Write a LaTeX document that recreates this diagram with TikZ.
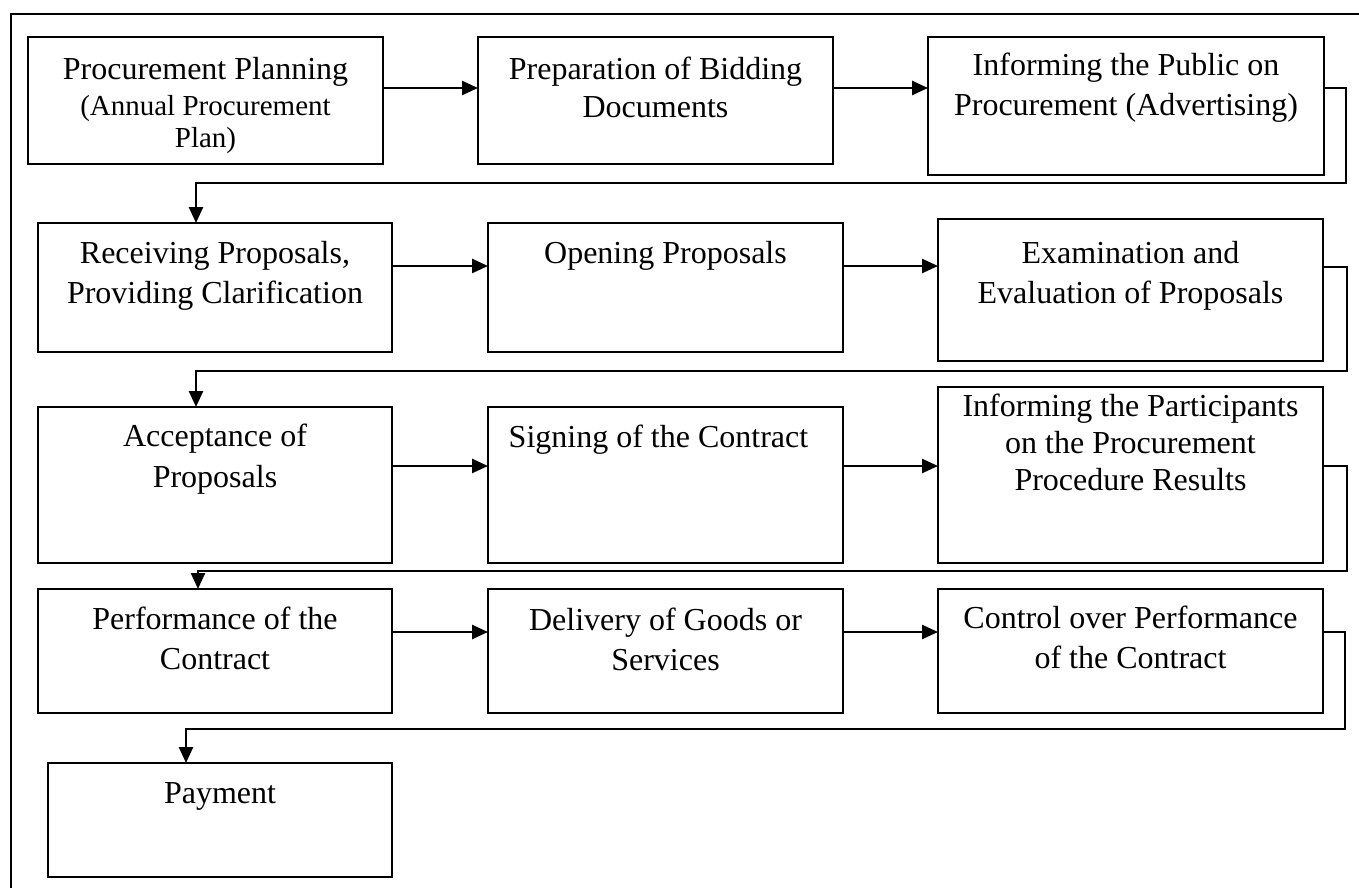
\documentclass[tikz,border=0pt]{standalone}
\usepackage{fontspec}
\setmainfont{Liberation Serif}
\usetikzlibrary{arrows.meta,calc}
\begin{document}
\begin{tikzpicture}[x=1pt,y=-1pt,
  box/.style={draw, line width=2.6pt, inner sep=0pt, outer sep=0pt, anchor=north west},
  lbl/.style={anchor=base, inner sep=0pt, font=\fontsize{32}{40}\selectfont},
  link/.style={line width=2.5pt, -{Triangle[length=16pt,width=14pt]}},
  frame/.style={line width=2.8pt}]
\useasboundingbox (0,0) rectangle (1359,888);
\draw[frame] (11,888) -- (11,14) -- (1359,14);
% row 1
\node[box, minimum width=355pt, minimum height=127pt] (b1) at (28,37) {};
\node[box, minimum width=355pt, minimum height=127pt] (b2) at (478,37) {};
\node[box, minimum width=396pt, minimum height=138pt] (b3) at (928,37) {};
% row 2
\node[box, minimum width=354pt, minimum height=129pt] (b4) at (38,223) {};
\node[box, minimum width=355pt, minimum height=129pt] (b5) at (488,223) {};
\node[box, minimum width=385pt, minimum height=142pt] (b6) at (938,219) {};
% row 3
\node[box, minimum width=354pt, minimum height=156pt] (b7) at (38,407) {};
\node[box, minimum width=355pt, minimum height=156pt] (b8) at (488,407) {};
\node[box, minimum width=385pt, minimum height=176pt] (b9) at (938,387) {};
% row 4
\node[box, minimum width=354pt, minimum height=124pt] (b10) at (38,589) {};
\node[box, minimum width=355pt, minimum height=124pt] (b11) at (488,589) {};
\node[box, minimum width=385pt, minimum height=124pt] (b12) at (938,589) {};
% row 5
\node[box, minimum width=344pt, minimum height=114pt] (b13) at (48,763) {};
% labels
\node[lbl, font=\fontsize{32}{36}\selectfont] (t1) at ($(b1.north)+(0,43)$)
  {\begin{tabular}[t]{@{}c@{}}Procurement Planning\\ \fontsize{29}{34}\selectfont(Annual Procurement\\[-4pt] \fontsize{29}{34}\selectfont Plan)\end{tabular}};
\node[lbl] (t2) at ($(b2.north)+(0,43)$) {\begin{tabular}[t]{@{}c@{}}Preparation of Bidding\\[-2pt] Documents\end{tabular}};
\node[lbl] (t3) at ($(b3.north)+(0,39)$) {\begin{tabular}[t]{@{}c@{}}Informing the Public on\\ Procurement (Advertising)\end{tabular}};
\node[lbl] (t4) at ($(b4.north)+(0,40)$) {\begin{tabular}[t]{@{}c@{}}Receiving Proposals,\\ Providing Clarification\end{tabular}};
\node[lbl] (t5) at ($(b5.north)+(0,40)$) {Opening Proposals};
\node[lbl] (t6) at ($(b6.north)+(0,44)$) {\begin{tabular}[t]{@{}c@{}}Examination and\\ Evaluation of Proposals\end{tabular}};
\node[lbl] (t7) at ($(b7.north)+(0,39)$) {\begin{tabular}[t]{@{}c@{}}Acceptance of\\[1pt] Proposals\end{tabular}};
\node[lbl] (t8) at ($(b8.north)+(-7,40)$) {Signing of the Contract};
\node[lbl, font=\fontsize{32}{37}\selectfont] (t9) at ($(b9.north)+(0,29)$) {\begin{tabular}[t]{@{}c@{}}Informing the Participants\\ on the Procurement\\ Procedure Results\end{tabular}};
\node[lbl] (t10) at ($(b10.north)+(0,40)$) {\begin{tabular}[t]{@{}c@{}}Performance of the\\ Contract\end{tabular}};
\node[lbl] (t11) at ($(b11.north)+(0,41)$) {\begin{tabular}[t]{@{}c@{}}Delivery of Goods or\\ Services\end{tabular}};
\node[lbl] (t12) at ($(b12.north)+(0,39)$) {\begin{tabular}[t]{@{}c@{}}Control over Performance\\ of the Contract\end{tabular}};
\node[lbl] (t13) at ($(b13.north)+(0,40)$) {Payment};
% connectors
\draw[link] (b1.east |- 0,88) -- (b2.west |- 0,88);
\draw[link] (b2.east |- 0,88) -- (b3.west |- 0,88);
\draw[link] (b3.east |- 0,88) -| (1346,183) -| (b4.north -| 196,0);
\draw[link] (b4.east |- 0,266) -- (b5.west |- 0,266);
\draw[link] (b5.east |- 0,266) -- (b6.west |- 0,266);
\draw[link] (b6.east |- 0,267) -| (1347,371) -| (b7.north -| 196,0);
\draw[link] (b7.east |- 0,466) -- (b8.west |- 0,466);
\draw[link] (b8.east |- 0,466) -- (b9.west |- 0,466);
\draw[link] (b9.east |- 0,466) -| (1347,571) -| (b10.north -| 198,0);
\draw[link] (b10.east |- 0,632) -- (b11.west |- 0,632);
\draw[link] (b11.east |- 0,632) -- (b12.west |- 0,632);
\draw[link] (b12.east |- 0,632) -| (1345,729) -| (b13.north -| 186,0);
\end{tikzpicture}
\end{document}
